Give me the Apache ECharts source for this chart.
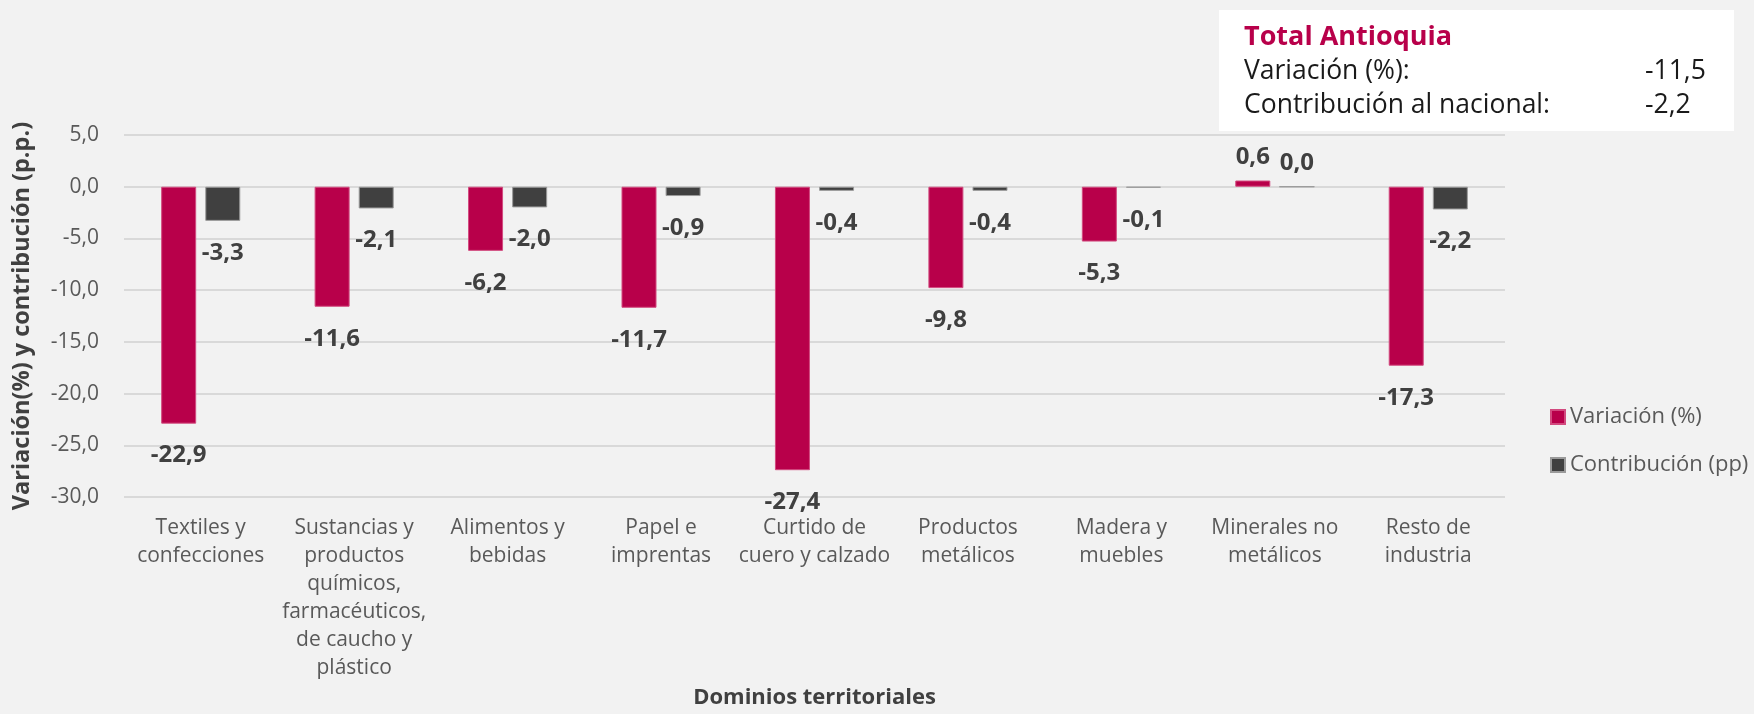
<!DOCTYPE html>
<html>
<head>
<meta charset="utf-8">
<script src="https://cdn.jsdelivr.net/npm/echarts@6/dist/echarts.min.js"></script>
<style>
html,body{margin:0;padding:0;background:#f2f2f2;}
#chart{width:1754px;height:714px;}
</style>
</head>
<body>
<div id="chart"></div>
<script>
const categories = [
  "Textiles y\nconfecciones",
  "Sustancias y\nproductos\nquímicos,\nfarmacéuticos,\nde caucho y\nplástico",
  "Alimentos y\nbebidas",
  "Papel e\nimprentas",
  "Curtido de\ncuero y calzado",
  "Productos\nmetálicos",
  "Madera y\nmuebles",
  "Minerales no\nmetálicos",
  "Resto de\nindustria"
];
const variacion = [-22.9, -11.6, -6.2, -11.7, -27.4, -9.8, -5.3, 0.6, -17.3];
const contribucion = [-3.3, -2.1, -2.0, -0.9, -0.4, -0.4, -0.1, 0.0, -2.2];
const seriesNames = ["Variación (%)", "Contribución (pp)"];
const yTicks = { min: -30, max: 5, interval: 5 };
const totalTitle = "Total Antioquia";
const totalRows = [["Variación (%):", "-11,5"], ["Contribución al nacional:", "-2,2"]];

const FONT = "'Open Sans', 'Noto Sans', sans-serif";
const fmt = v => Number(v).toFixed(1).replace('.', ',');
const RED = '#b8004a', DARK = '#404040';

function toData(arr) {
  return arr.map(v => v >= 0 ? { value: v, label: { position: 'top', distance: 11 } } : v);
}
const labelCfg = {
  show: true, position: 'outside', distance: 20,
  formatter: p => fmt(p.value),
  color: '#404040', fontWeight: 'bold', fontSize: 24, fontFamily: FONT
};

const chart = echarts.init(document.getElementById('chart'));
chart.setOption({
  backgroundColor: '#f2f2f2',
  animation: false,
  textStyle: { fontFamily: FONT },
  grid: { left: 124, right: 249, top: 135, bottom: 207, containLabel: false },
  legend: {
    orient: 'vertical', left: 1545, top: 401,
    itemWidth: 14, itemHeight: 14, itemGap: 26, icon: 'rect',
    textStyle: { fontSize: 22, color: '#595959', fontFamily: FONT, lineHeight: 22 },
    data: seriesNames
  },
  xAxis: {
    type: 'category', data: categories,
    axisLine: { show: false, onZero: false },
    axisTick: { show: false },
    axisLabel: { interval: 0, margin: 17, fontSize: 21, lineHeight: 28, color: '#595959', fontFamily: FONT },
    name: 'Dominios territoriales', nameLocation: 'middle', nameGap: 186,
    nameTextStyle: { fontSize: 22, fontWeight: 'bold', color: '#404040', fontFamily: FONT }
  },
  yAxis: {
    type: 'value', min: yTicks.min, max: yTicks.max, interval: yTicks.interval,
    axisLine: { show: false }, axisTick: { show: false },
    splitLine: { lineStyle: { color: '#d9d9d9', width: 2 } },
    axisLabel: { margin: 25, fontSize: 21, color: '#595959', fontFamily: FONT, formatter: v => fmt(v) },
    name: 'Variación(%) y contribución (p.p.)', nameLocation: 'middle', nameGap: 90,
    nameTextStyle: { fontSize: 23.5, fontWeight: 'bold', color: '#404040', fontFamily: FONT }
  },
  series: [
    {
      name: seriesNames[0], type: 'bar', data: toData(variacion),
      barWidth: 35, barGap: '26%',
      itemStyle: { color: RED, borderColor: '#d24a7f', borderWidth: 1 },
      label: labelCfg
    },
    {
      name: seriesNames[1], type: 'bar', data: toData(contribucion),
      barWidth: 35, barGap: '26%',
      itemStyle: { color: DARK, borderColor: '#9a9a9a', borderWidth: 1 },
      label: labelCfg
    }
  ],
  graphic: [
    { type: 'rect', left: 1219, top: 10, shape: { width: 515, height: 121 }, style: { fill: '#ffffff' }, z: 10 },
    { type: 'text', left: 1244, top: 24, style: { text: totalTitle, font: "bold 27px 'Open Sans'", fill: RED }, z: 11 },
    { type: 'text', left: 1244, top: 58, style: { text: totalRows[0][0], font: "26.5px 'Open Sans'", fill: '#1a1a1a' }, z: 11 },
    { type: 'text', left: 1645, top: 58, style: { text: totalRows[0][1], font: "26.5px 'Open Sans'", fill: '#1a1a1a' }, z: 11 },
    { type: 'text', left: 1244, top: 92, style: { text: totalRows[1][0], font: "26.5px 'Open Sans'", fill: '#1a1a1a' }, z: 11 },
    { type: 'text', left: 1645, top: 92, style: { text: totalRows[1][1], font: "26.5px 'Open Sans'", fill: '#1a1a1a' }, z: 11 }
  ]
});
</script>
</body>
</html>
